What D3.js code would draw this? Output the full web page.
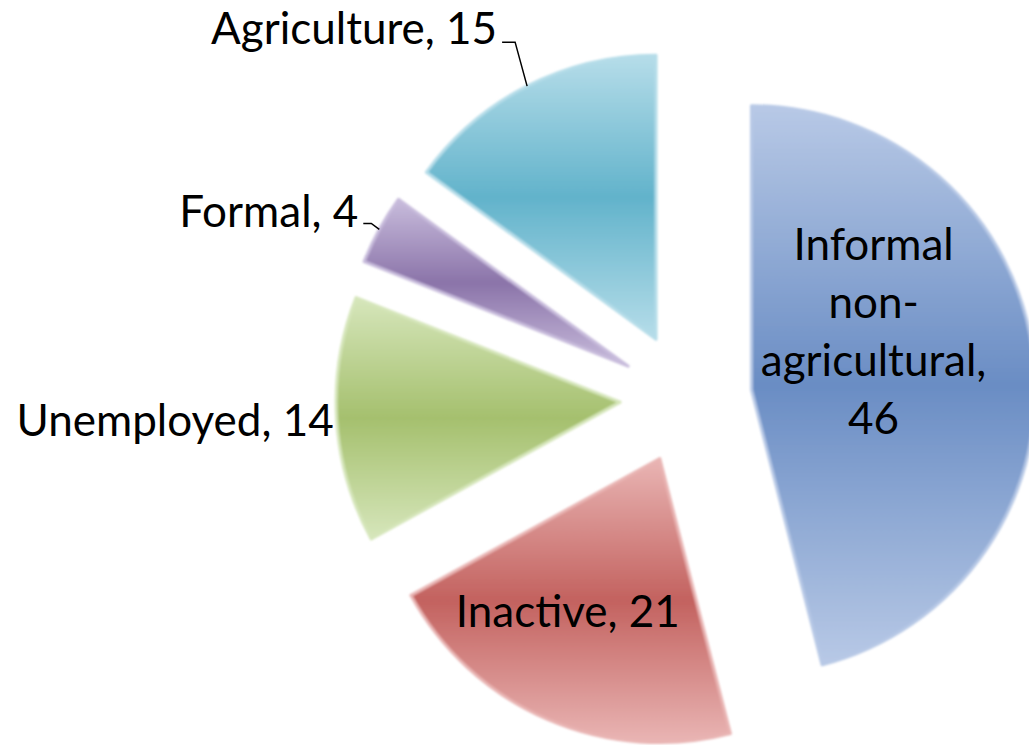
<!DOCTYPE html>
<html>
<head>
<meta charset="utf-8">
<script src="https://cdn.jsdelivr.net/npm/d3@7"></script>
<style>
  html, body { margin: 0; padding: 0; background: #fff; }
  svg { display: block; }
  text { font-family: Lato, "Open Sans", sans-serif; fill: #000; }
</style>
</head>
<body>
<div id="chart"></div>
<script>
// Exploded pie — labour status shares
const categories = ["Informal non-agricultural", "Inactive", "Unemployed", "Formal", "Agriculture"];
const values = [46, 21, 14, 4, 15];
const darkColors = ["#6a8dc4", "#c3625f", "#a5c06e", "#8b74a9", "#62b3cb"];
const lightColors = ["#b8c9e6", "#e9b5b4", "#d6e6bb", "#c8bcdc", "#b6dde9"];

(function(){
  const width = 1029, height = 745;
  const cx = 686, cy = 398;          // pie centre
  const radius = 284;
  const explode = 66;

  const svg = d3.select("#chart").append("svg")
    .attr("width", width)
    .attr("height", height);

  const defs = svg.append("defs");

  const soft = defs.append("filter").attr("id", "soft")
    .attr("x", "-5%").attr("y", "-5%").attr("width", "110%").attr("height", "110%");
  soft.append("feGaussianBlur").attr("stdDeviation", 0.9);

  values.forEach((v, i) => {
    const grad = defs.append("linearGradient")
      .attr("id", "grad" + i)
      .attr("x1", 0).attr("y1", 0).attr("x2", 0).attr("y2", 1);
    grad.append("stop").attr("offset", "0%").attr("stop-color", lightColors[i]);
    grad.append("stop").attr("offset", "50%").attr("stop-color", darkColors[i]);
    grad.append("stop").attr("offset", "100%").attr("stop-color", lightColors[i]);
  });

  const pie = d3.pie().sort(null).value(d => d);
  const arcs = pie(values);

  const arc = d3.arc().innerRadius(0).outerRadius(radius);

  const g = svg.append("g").attr("transform", `translate(${cx},${cy})`);

  function offset(d) {
    const a = (d.startAngle + d.endAngle) / 2;
    return [explode * Math.sin(a), -explode * Math.cos(a)];
  }
  function outerMid(d) {
    const a = (d.startAngle + d.endAngle) / 2;
    const o = offset(d);
    return [o[0] + radius * Math.sin(a), o[1] - radius * Math.cos(a)];
  }

  g.selectAll("path.slice")
    .data(arcs)
    .join("path")
    .attr("class", "slice")
    .attr("transform", d => `translate(${offset(d)})`)
    .attr("d", arc)
    .attr("fill", (d, i) => `url(#grad${i})`)
    .attr("stroke", (d, i) => lightColors[i])
    .attr("stroke-width", 3)
    .attr("stroke-linejoin", "round")
    .attr("filter", "url(#soft)");

  const fs = 44;

  // Informal non-agricultural — inside, wrapped
  const inf = arcs[0], io = offset(inf);
  const infLines = ["Informal", "non-", "agricultural,", String(values[0])];
  const infText = g.append("text")
    .attr("text-anchor", "middle")
    .style("font-size", fs + "px");
  infLines.forEach((s, k) => {
    infText.append("tspan")
      .attr("x", io[0] + radius * 0.43)
      .attr("y", io[1] - 130 + k * 58)
      .text(s);
  });

  // Inactive — inside
  const ina = arcs[1], no = offset(ina);
  g.append("text")
    .attr("text-anchor", "middle")
    .attr("x", no[0] - 92)
    .attr("y", no[1] + 168)
    .style("font-size", fs + "px")
    .text(`${categories[1]}, ${values[1]}`);

  // Unemployed — outside, no leader
  const un = outerMid(arcs[2]);
  g.append("text")
    .attr("text-anchor", "end")
    .attr("x", un[0] - 3)
    .attr("y", un[1] + 16)
    .style("font-size", fs + "px")
    .text(`${categories[2]}, ${values[2]}`);

  // Formal — outside with leader
  const fm = outerMid(arcs[3]);
  g.append("path")
    .attr("d", d3.line()([[fm[0], fm[1]], [fm[0] - 8, fm[1] - 6], [fm[0] - 16, fm[1] - 6]]))
    .attr("fill", "none").attr("stroke", "#000").attr("stroke-width", 1.5);
  g.append("text")
    .attr("text-anchor", "end")
    .attr("x", fm[0] - 21)
    .attr("y", fm[1] - 2)
    .style("font-size", fs + "px")
    .text(`${categories[3]}, ${values[3]}`);

  // Agriculture — outside with leader
  const ag = outerMid(arcs[4]);
  g.append("path")
    .attr("d", d3.line()([[ag[0], ag[1]], [ag[0] - 12, ag[1] - 44], [ag[0] - 25, ag[1] - 44]]))
    .attr("fill", "none").attr("stroke", "#000").attr("stroke-width", 1.5);
  g.append("text")
    .attr("text-anchor", "end")
    .attr("x", ag[0] - 30)
    .attr("y", ag[1] - 42)
    .style("font-size", fs + "px")
    .text(`${categories[4]}, ${values[4]}`);
})();
</script>
</body>
</html>
